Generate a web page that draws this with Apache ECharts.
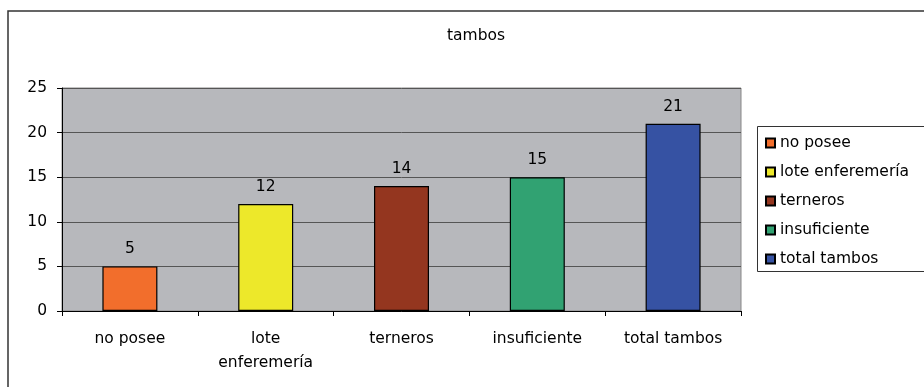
<!DOCTYPE html>
<html>
<head>
<meta charset="utf-8">
<script src="https://cdn.jsdelivr.net/npm/echarts@6/dist/echarts.min.js"></script>
<style>
  html, body { margin: 0; padding: 0; background: #fff; }
  #chart { width: 924px; height: 387px; }
</style>
</head>
<body>
<div id="chart"></div>
<script>
// Chart data
const categories = ['no posee', 'lote\nenferemería', 'terneros', 'insuficiente', 'total tambos'];
const legendNames = ['no posee', 'lote enferemería', 'terneros', 'insuficiente', 'total tambos'];
const values = [5, 12, 14, 15, 21];
const colors = ['#f26e2c', '#ede82a', '#94361f', '#31a272', '#3652a3'];
const yTicks = { min: 0, max: 25, interval: 5 };

const FONT = 'DejaVu Sans, Verdana, sans-serif';
const FS = 15.5;

// One series per category so each bar gets its own legend entry;
// series overlap with barGap -100% so each bar sits centred on its category.
const series = legendNames.map((name, i) => ({
  name: name,
  type: 'bar',
  barWidth: 55,
  barGap: '-100%',
  data: values.map((v, j) => (j === i ? v : null)),
  itemStyle: { color: colors[i], borderColor: '#000', borderWidth: 1.2 },
  label: {
    show: true,
    position: 'top',
    distance: 9,
    color: '#000',
    fontFamily: FONT,
    fontSize: FS
  }
}));

const chart = echarts.init(document.getElementById('chart'), null, { renderer: 'canvas' });
chart.setOption({
  animation: false,
  backgroundColor: '#fff',
  title: {
    text: 'tambos',
    left: 471,
    top: 23,
    textAlign: 'center',
    textStyle: { fontFamily: FONT, fontSize: FS, fontWeight: 'normal', color: '#000' }
  },
  legend: {
    orient: 'vertical',
    left: 765,
    top: 135,
    padding: 0,
    itemWidth: 9,
    itemHeight: 9,
    itemGap: 13,
    itemTextGap: 8,
    icon: 'rect',
    data: legendNames,
    textStyle: { fontFamily: FONT, fontSize: FS, color: '#000' }
  },
  grid: {
    left: 62,
    right: 183,
    top: 88,
    bottom: 76,
    show: true,
    backgroundColor: '#b7b8bc',
    borderColor: '#888',
    borderWidth: 1
  },
  xAxis: {
    type: 'category',
    data: categories,
    axisLine: { lineStyle: { color: '#000', width: 1 } },
    axisTick: { show: true, length: 5, alignWithLabel: false, lineStyle: { color: '#000' } },
    axisLabel: { margin: 16, color: '#000', fontFamily: FONT, fontSize: FS, lineHeight: 24, interval: 0 },
    splitLine: { show: false }
  },
  yAxis: {
    type: 'value',
    min: yTicks.min,
    max: yTicks.max,
    interval: yTicks.interval,
    axisLine: { show: true, lineStyle: { color: '#000', width: 1 } },
    axisTick: { show: true, length: 5, lineStyle: { color: '#000' } },
    axisLabel: { margin: 15, color: '#000', fontFamily: FONT, fontSize: FS },
    splitLine: { show: true, lineStyle: { color: '#555', width: 1 } }
  },
  graphic: [
    {
      type: 'rect',
      z: -10,
      silent: true,
      shape: { x: 8, y: 11, width: 1000, height: 500 },
      style: { fill: 'none', stroke: '#333', lineWidth: 1.5 }
    },
    {
      type: 'rect',
      z: -5,
      silent: true,
      shape: { x: 757.5, y: 126.5, width: 300, height: 145 },
      style: { fill: '#fff', stroke: '#333', lineWidth: 1 }
    }
  ],
  series: series
});
</script>
</body>
</html>
